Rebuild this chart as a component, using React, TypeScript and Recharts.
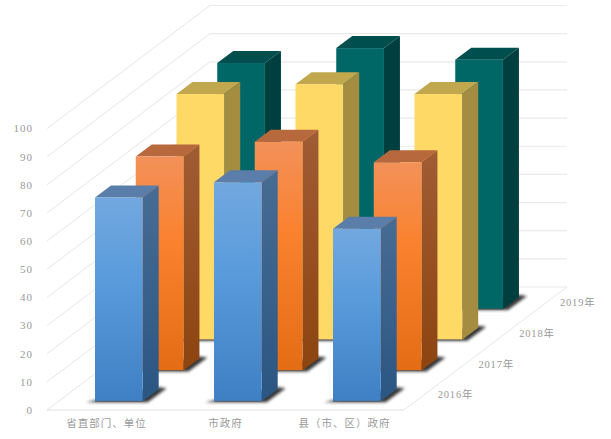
import React from "react";
import { ComposedChart, Bar, XAxis, YAxis, CartesianGrid } from "recharts";

const categories = ["省直部门、单位", "市政府", "县（市、区）政府"];
const yearLabels = ["2016年", "2017年", "2018年", "2019年"];
const values2016 = [72.4, 77.8, 61.3];
const values2017 = [76, 81.3, 74];
const values2018 = [87.3, 90.8, 87.3];
const values2019 = [87.4, 92.7, 88.6];
const yTicks = [0, 10, 20, 30, 40, 50, 60, 70, 80, 90, 100];

const data = categories.map((name, i) => ({
  name,
  y2016: values2016[i],
  y2017: values2017[i],
  y2018: values2018[i],
  y2019: values2019[i],
}));

const DEPTH_X = 163;
const DEPTH_Y = 123;
const ROW_X = DEPTH_X / 4;
const ROW_Y = DEPTH_Y / 4;
const BAR_DX = 16;
const BAR_DY = 12;
const FONT = '"Liberation Serif", "Noto Sans CJK SC", serif';
const TEXT = "#9a9a9a";
const GRID = "#e6e6e6";

const palettes = [
  { id: "b", front: ["#72a8df", "#5a9bdc", "#3e80c3"], side: ["#486c94", "#2a5682"], top: "#5a7ea9" },
  { id: "o", front: ["#f39159", "#fa812e", "#e36d15"], side: ["#a05c34", "#8c4410"], top: "#b8683d" },
  { id: "y", front: ["#ffd966", "#ffd966", "#ffd966"], side: ["#a48d40", "#a48d40"], top: "#c1a74d" },
  { id: "g", front: ["#006766", "#006766", "#006766"], side: ["#003f3f", "#003f3f"], top: "#004e4d" },
];

const makeShape = (row: number) => (props: any) => {
  const { x, y, width, height } = props;
  const p = palettes[row];
  const ox = 12 + row * ROW_X;
  const oy = -(8.7 + row * ROW_Y);
  const l = x + ox;
  const r = l + width;
  const t = y + oy;
  const b = t + height;
  const pts = (a: number[][]) => a.map((q) => q.join(",")).join(" ");
  return (
    <g>
      <polygon
        points={pts([
          [l - 9, b + 1],
          [r + 5, b + 1],
          [r + BAR_DX + 8, b - BAR_DY - 1],
          [r + BAR_DX, b - BAR_DY - 2],
          [l, b - 1],
        ])}
        fill="#222"
        opacity={0.9}
        filter="url(#soft)"
      />
      <polygon points={pts([[l, t], [l + BAR_DX, t - BAR_DY], [r + BAR_DX, t - BAR_DY], [r, t]])} fill={p.top} />
      <polygon
        points={pts([[r, t], [r + BAR_DX, t - BAR_DY], [r + BAR_DX, b - BAR_DY], [r, b]])}
        fill={`url(#${p.id}s)`}
      />
      <rect x={l} y={t} width={width} height={height} fill={`url(#${p.id}f)`} />
      <line x1={l} x2={r} y1={b} y2={b} stroke="#555" strokeWidth={1} opacity={0.7} />
    </g>
  );
};

const gridLine = (props: any) => {
  const { x1, y1, x2, key, index } = props;
  const bx = x1 + DEPTH_X;
  const by = y1 - DEPTH_Y;
  const isFloor = Math.abs(y1 - 410) < 0.6;
  return (
    <g key={key ?? index}>
      <line x1={x1} y1={y1} x2={bx} y2={by} stroke={GRID} strokeWidth={1} />
      <line x1={bx} y1={by} x2={x2 + DEPTH_X} y2={by} stroke="#eaeaea" strokeWidth={1.2} />
      {isFloor && <line x1={x2} y1={y1} x2={x2 + DEPTH_X} y2={by} stroke={GRID} strokeWidth={1} />}
      {isFloor &&
        yearLabels.map((t, i) => (
          <text
            key={t}
            x={x2 + 51.5 + i * ROW_X}
            y={y1 - 14 - i * ROW_Y}
            textAnchor="middle"
            dominantBaseline="middle"
            fontFamily={FONT}
            fontSize={10.5}
            letterSpacing={0.8}
            fill={TEXT}
          >
            {t}
          </text>
        ))}
    </g>
  );
};

const series = ["y2019", "y2018", "y2017", "y2016"];
const rowOf = [3, 2, 1, 0];

export default function App() {
  return (
    <div style={{ position: "absolute", left: 0, top: 0, width: 611, height: 439, background: "#fff" }}>
      <ComposedChart
        width={611}
        height={439}
        data={data}
        margin={{ top: 128.5, right: 207, bottom: 0, left: 0 }}
        barSize={47.7}
        barGap={-47.7}
      >
        <defs>
          <filter id="soft" x="-30%" y="-100%" width="160%" height="300%">
            <feGaussianBlur stdDeviation="1.4" />
          </filter>
          {palettes.map((p) => (
            <React.Fragment key={p.id}>
              <linearGradient id={`${p.id}f`} x1="0" y1="0" x2="0" y2="1">
                <stop offset="0" stopColor={p.front[0]} />
                <stop offset="0.4" stopColor={p.front[1]} />
                <stop offset="1" stopColor={p.front[2]} />
              </linearGradient>
              <linearGradient id={`${p.id}s`} x1="0" y1="0" x2="0" y2="1">
                <stop offset="0" stopColor={p.side[0]} />
                <stop offset="1" stopColor={p.side[1]} />
              </linearGradient>
            </React.Fragment>
          ))}
        </defs>
        <CartesianGrid vertical={false} horizontal={gridLine} />
        <XAxis
          dataKey="name"
          height={29}
          tickLine={false}
          tickSize={0}
          tickMargin={10}
          axisLine={{ stroke: "#e0e0e0" }}
          interval={0}
          tick={{ fontFamily: FONT, fontSize: 10.5, fill: TEXT, letterSpacing: 1 }}
        />
        <YAxis
          width={47}
          domain={[0, 100]}
          ticks={yTicks}
          interval={0}
          axisLine={false}
          tickLine={false}
          tickSize={0}
          tickMargin={14}
          tick={{ fontFamily: FONT, fontSize: 11, fill: TEXT, letterSpacing: 1 }}
        />
        {series.map((k, i) => (
          <Bar key={k} dataKey={k} isAnimationActive={false} shape={makeShape(rowOf[i])} />
        ))}
      </ComposedChart>
    </div>
  );
}
